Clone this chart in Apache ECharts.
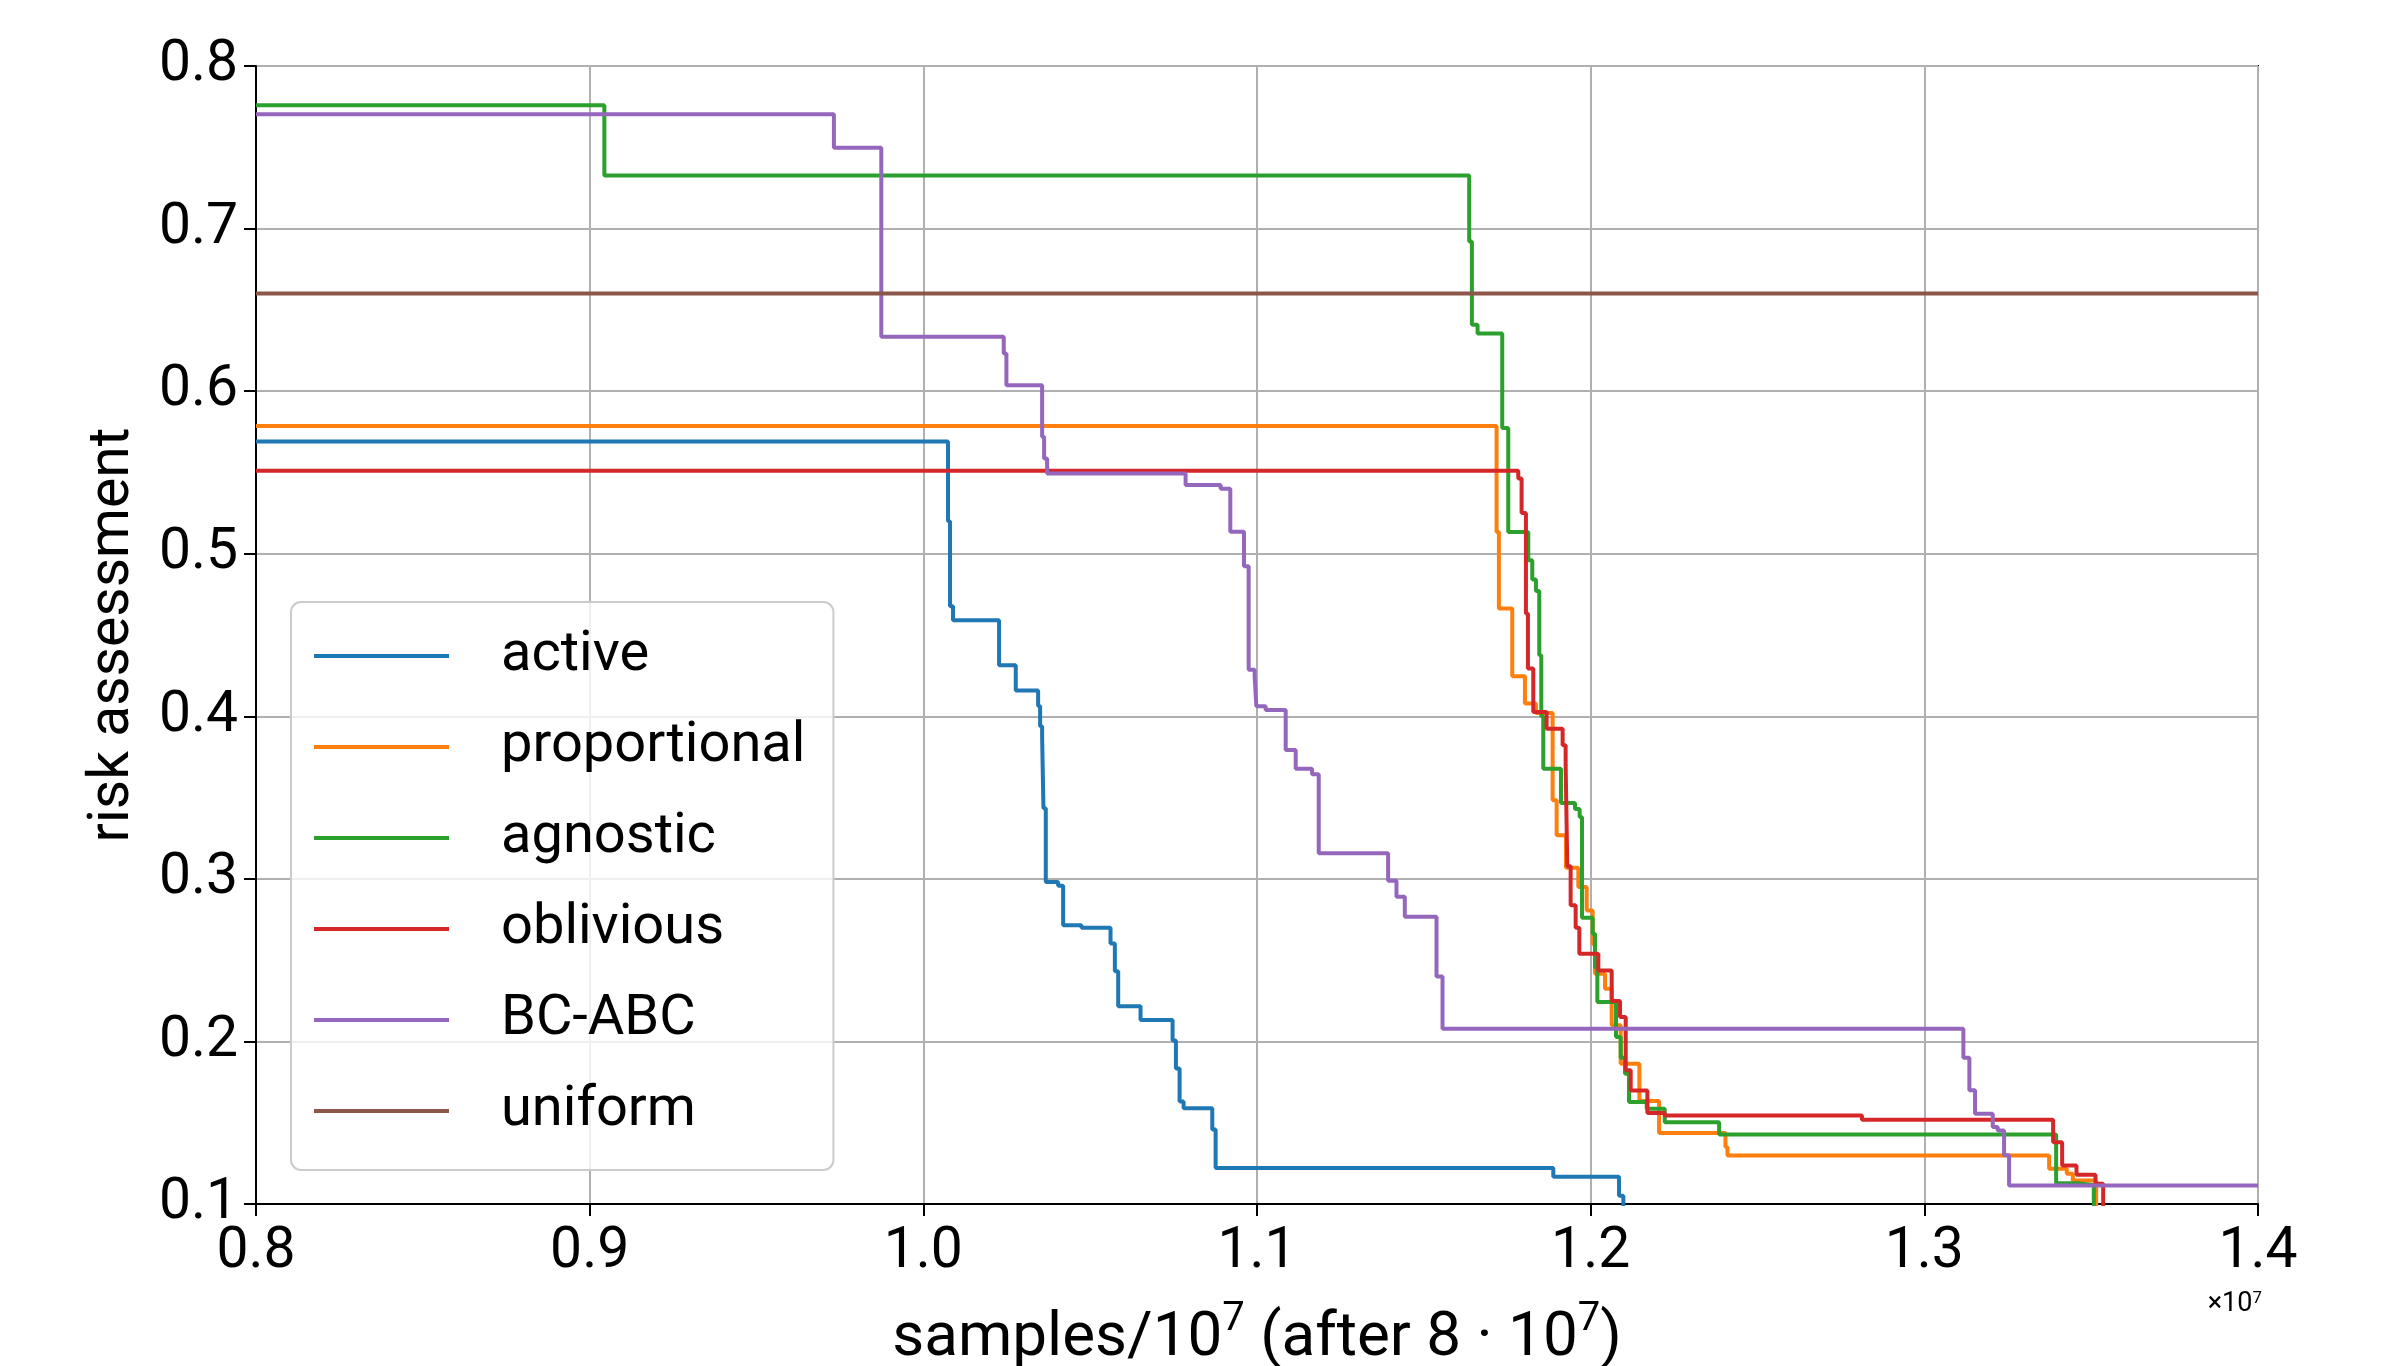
<!DOCTYPE html>
<html>
<head>
<meta charset="utf-8">
<title>risk assessment</title>
<script src="https://cdn.jsdelivr.net/npm/echarts@6/dist/echarts.min.js"></script>
<style>
  html, body { margin: 0; padding: 0; background: #fff; }
  #chart { width: 2402px; height: 1366px; }
</style>
</head>
<body>
<div id="chart"></div>
<script>
// step points [x, value from x onward]
var names = ['active', 'proportional', 'agnostic', 'oblivious', 'BC-ABC', 'uniform'];
var colors = ['#1f77b4', '#ff7f0e', '#2ca02c', '#d62728', '#9467bd', '#8c564b'];
var xTicks = [0.8, 0.9, 1.0, 1.1, 1.2, 1.3, 1.4];
var yTicks = [0.1, 0.2, 0.3, 0.4, 0.5, 0.6, 0.7, 0.8];

var active = [
  [0.8, 0.569], [1.0074, 0.52], [1.0080, 0.4677], [1.0089, 0.459],
  [1.0227, 0.4314], [1.0277, 0.4158], [1.0344, 0.4064], [1.0350, 0.3939],
  [1.0356, 0.3877], [1.0360, 0.3435], [1.0367, 0.298], [1.0404, 0.2957],
  [1.0419, 0.2714], [1.0474, 0.2699], [1.0561, 0.2603], [1.0574, 0.2431],
  [1.0584, 0.2217], [1.0651, 0.2132], [1.0747, 0.2006], [1.0757, 0.1834],
  [1.0768, 0.1631], [1.0780, 0.1589], [1.0866, 0.1459], [1.0876, 0.1222],
  [1.1888, 0.1167], [1.2085, 0.105], [1.2098, 0.09]
];
var proportional = [
  [0.8, 0.5785], [1.1718, 0.5134], [1.1725, 0.4663], [1.1765, 0.4246],
  [1.1803, 0.4078], [1.1836, 0.402], [1.1886, 0.3483], [1.1898, 0.3268],
  [1.1926, 0.3069], [1.1963, 0.295], [1.1988, 0.2806], [1.2006, 0.26],
  [1.2013, 0.2417], [1.2043, 0.2324], [1.2063, 0.21], [1.2090, 0.1863],
  [1.2146, 0.1633], [1.2205, 0.1436], [1.2404, 0.135], [1.2410, 0.1298],
  [1.3374, 0.1217], [1.3427, 0.1186], [1.3445, 0.1145], [1.3515, 0.09]
];
var agnostic = [
  [0.8, 0.7758], [0.9044, 0.7327], [1.1636, 0.692], [1.1644, 0.6409],
  [1.1661, 0.6354], [1.1735, 0.5774], [1.1753, 0.5134], [1.1813, 0.496],
  [1.1825, 0.4841], [1.1836, 0.4771], [1.1846, 0.4375], [1.1852, 0.40],
  [1.1858, 0.3678], [1.1911, 0.3467], [1.1953, 0.343], [1.1967, 0.338],
  [1.1974, 0.2761], [1.2006, 0.2663], [1.2013, 0.2457], [1.2020, 0.2242],
  [1.2076, 0.2027], [1.2090, 0.19], [1.2103, 0.1801], [1.2115, 0.1627],
  [1.2168, 0.1586], [1.2222, 0.1503], [1.2385, 0.1428], [1.3395, 0.1127],
  [1.3460, 0.1115], [1.3508, 0.09]
];
var oblivious = [
  [0.8, 0.551], [1.1783, 0.5463], [1.1793, 0.5251], [1.1806, 0.4632],
  [1.1812, 0.4294], [1.1828, 0.4027], [1.1868, 0.3924], [1.1916, 0.3822],
  [1.1925, 0.3698], [1.1930, 0.3077], [1.1940, 0.2837], [1.1955, 0.27],
  [1.1966, 0.254], [1.2023, 0.2437], [1.2063, 0.2248], [1.2088, 0.215],
  [1.2105, 0.1822], [1.2120, 0.1698], [1.2170, 0.156], [1.2222, 0.1545],
  [1.2813, 0.1518], [1.3386, 0.138], [1.3413, 0.1237], [1.3456, 0.118],
  [1.3513, 0.1124], [1.3536, 0.09]
];
var bcabc = [
  [0.8, 0.7703], [0.9732, 0.7497], [0.9874, 0.6334], [1.0241, 0.6232],
  [1.0249, 0.6037], [1.0356, 0.5719], [1.0362, 0.5586], [1.0371, 0.5494],
  [1.0786, 0.5423], [1.0891, 0.54], [1.0920, 0.5135], [1.0961, 0.4923],
  [1.0975, 0.4287], [1.0993, 0.4246], [1.0998, 0.4062], [1.1026, 0.4039],
  [1.1086, 0.3793], [1.1116, 0.3678], [1.1165, 0.3643], [1.1185, 0.3157],
  [1.1393, 0.2988], [1.1418, 0.289], [1.1443, 0.2767], [1.1538, 0.24],
  [1.1556, 0.2078], [1.3117, 0.19], [1.3135, 0.17], [1.3152, 0.1555],
  [1.3205, 0.1473], [1.3220, 0.1452], [1.3239, 0.13], [1.3254, 0.1114],
  [1.4, 0.1114]
];
var uniform = [[0.8, 0.66], [1.4, 0.66]];

var seriesData = [active, proportional, agnostic, oblivious, bcabc, uniform];

var chart = echarts.init(document.getElementById('chart'));
var font = 'Roboto';

chart.setOption({
  backgroundColor: '#ffffff',
  animation: false,
  textStyle: { fontFamily: font },
  grid: {
    left: 256, top: 66, right: 144, bottom: 162,
    outerBoundsMode: 'none', containLabel: false,
    show: true, borderColor: '#000', borderWidth: 2, backgroundColor: 'transparent'
  },
  legend: {
    data: names,
    orient: 'vertical',
    left: 291, top: 602,
    padding: [24, 28, 29, 23],
    itemGap: 31,
    itemWidth: 135, itemHeight: 4,
    icon: 'rect',
    backgroundColor: 'rgba(255,255,255,0.8)',
    borderColor: '#cccccc', borderWidth: 2, borderRadius: 10,
    textStyle: { fontFamily: font, fontSize: 56, color: '#000', lineHeight: 60, padding: [0, 0, 0, 47] }
  },
  xAxis: {
    type: 'value', min: xTicks[0], max: xTicks[xTicks.length - 1], interval: 0.1,
    name: '{a|samples/10}{s|7}{a| (after 8 · 10}{s|7}{a|)}',
    nameLocation: 'middle', nameGap: 96,
    nameTextStyle: {
      rich: {
        a: { fontFamily: font, fontSize: 62, color: '#000', lineHeight: 70, verticalAlign: 'bottom' },
        s: { fontFamily: font, fontSize: 40, color: '#000', lineHeight: 70, verticalAlign: 'top', padding: [0, 0, 24, 0] }
      }
    },
    axisLine: { show: true, onZero: false, lineStyle: { color: '#000', width: 2 } },
    axisTick: { show: true, inside: false, length: 12, lineStyle: { color: '#000', width: 2 } },
    axisLabel: { margin: 20, fontSize: 57, color: '#000', fontFamily: font,
      formatter: function (v) { return v.toFixed(1); } },
    splitLine: { show: true, lineStyle: { color: '#b0b0b0', width: 2 } }
  },
  yAxis: {
    type: 'value', min: yTicks[0], max: yTicks[yTicks.length - 1], interval: 0.1,
    name: 'risk assessment', nameLocation: 'middle', nameGap: 114,
    nameTextStyle: { fontFamily: font, fontSize: 57, color: '#000' },
    axisLine: { show: true, onZero: false, lineStyle: { color: '#000', width: 2 } },
    axisTick: { show: true, inside: false, length: 12, lineStyle: { color: '#000', width: 2 } },
    axisLabel: { margin: 18, fontSize: 57, color: '#000', fontFamily: font,
      formatter: function (v) { return v.toFixed(1); } },
    splitLine: { show: true, lineStyle: { color: '#b0b0b0', width: 2 } }
  },
  graphic: [{
    type: 'text', right: 2402 - 2262, top: 1290,
    style: { text: '×10{s|7}', rich: { s: { fontSize: 17, fontFamily: font, padding: [0, 0, 12, 0] } },
      fontFamily: font, fontSize: 27, fill: '#000' }
  }],
  series: seriesData.map(function (d, i) {
    return {
      name: names[i], type: 'line', step: 'end', data: d,
      showSymbol: false, symbol: 'none', clip: true,
      color: colors[i],
      lineStyle: { color: colors[i], width: 4 }
    };
  })
});
</script>
</body>
</html>
